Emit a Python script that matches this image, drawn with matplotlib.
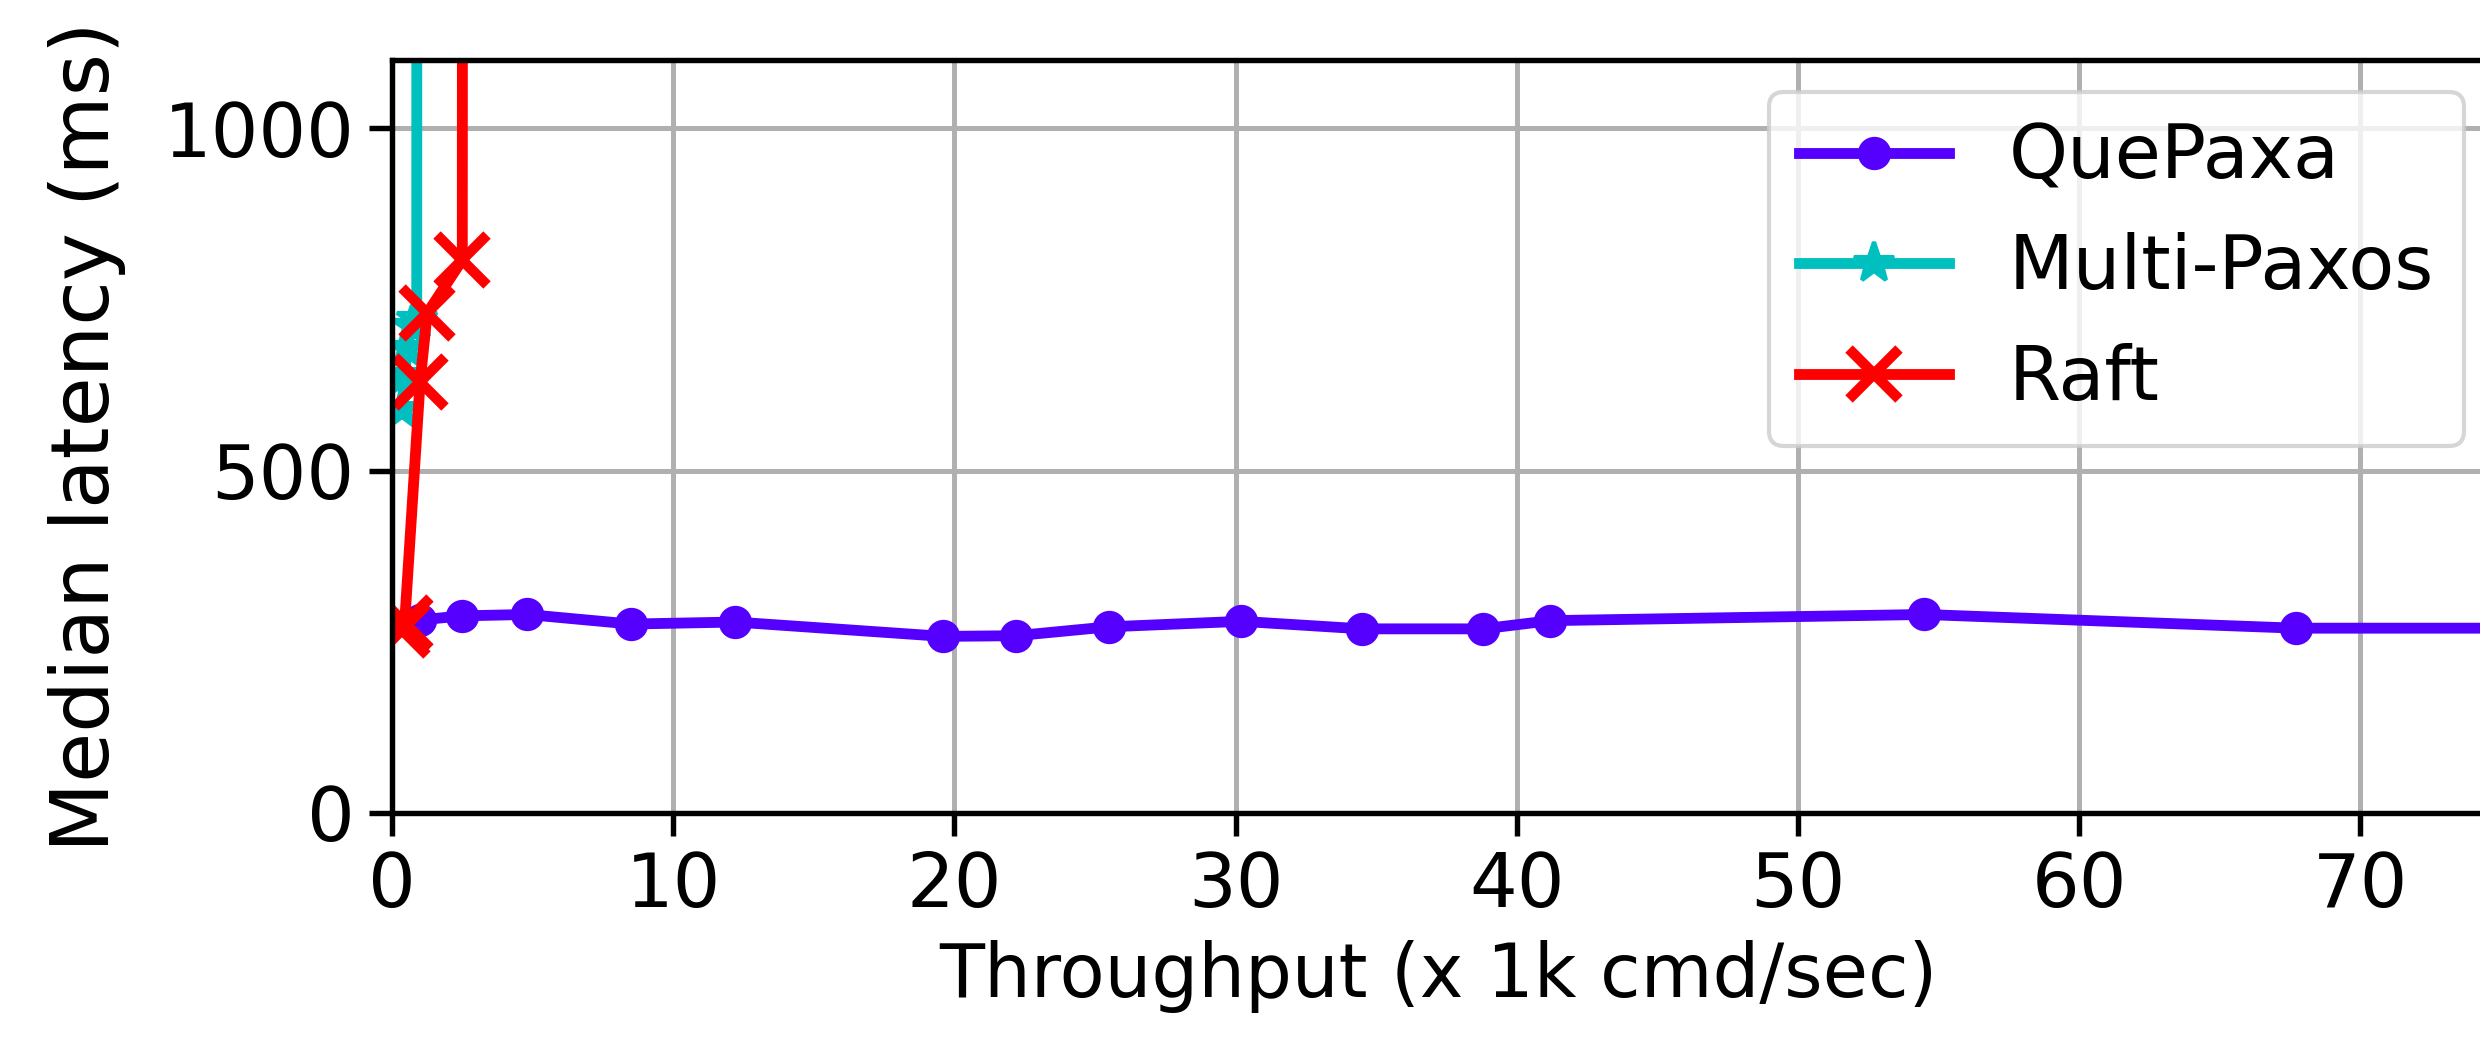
import matplotlib
matplotlib.use('Agg')
import matplotlib.pyplot as plt

# throughput (x 1k cmd/sec) and median latency (ms)
quepaxa_x = [1.0, 2.5, 4.8, 8.5, 12.2, 19.6, 22.2, 25.5, 30.2, 34.5, 38.8, 41.2, 54.5, 67.7, 80.0]
quepaxa_y = [282, 288, 290, 276, 279, 258, 259, 272, 280, 269, 269, 281, 290, 270, 270]

multipaxos_x = [0.35, 0.45, 0.55, 0.7, 0.88, 0.9]
multipaxos_y = [590, 640, 680, 712, 722, 5000]

raft_x = [0.35, 0.45, 1.0, 1.25, 2.5, 2.55]
raft_y = [268, 278, 630, 730, 808, 5000]

plt.rcParams['font.size'] = 18

fig = plt.figure(figsize=(2480 / 300, 1042 / 300), dpi=300)
# the right spine sits just past the figure edge, as in the original crop
ax = fig.add_axes([392 / 2480, 229 / 1042, 2092 / 2480, 753 / 1042])

ax.plot(quepaxa_x, quepaxa_y, color='#5500ff', marker='o', lw=2.6, ms=7, label='QuePaxa')
ax.plot(multipaxos_x, multipaxos_y, color='c', marker='*', lw=2.6, ms=10, label='Multi-Paxos')
ax.plot(raft_x, raft_y, color='r', marker='x', lw=2.6, ms=12, mew=2.5, label='Raft')

ax.set_xlim(0, 74.4)
ax.set_ylim(0, 1100)
ax.set_xticks([0, 10, 20, 30, 40, 50, 60, 70])
ax.set_yticks([0, 500, 1000])
ax.grid(True, color='#b0b0b0', lw=1.2)
ax.tick_params(length=5.5, width=1.3)
for s in ax.spines.values():
    s.set_linewidth(1.3)

ax.set_xlabel('Throughput (x 1k cmd/sec)', fontsize=17.7)
ax.set_ylabel('Median latency (ms)', fontsize=19.5, labelpad=9)

ax.legend(loc='upper right', bbox_to_anchor=(2464 / 2480, 1 - 92 / 1042),
          bbox_transform=fig.transFigure, borderaxespad=0, fontsize=18,
          handlelength=2.0)

fig.savefig('out.png', dpi=300)
